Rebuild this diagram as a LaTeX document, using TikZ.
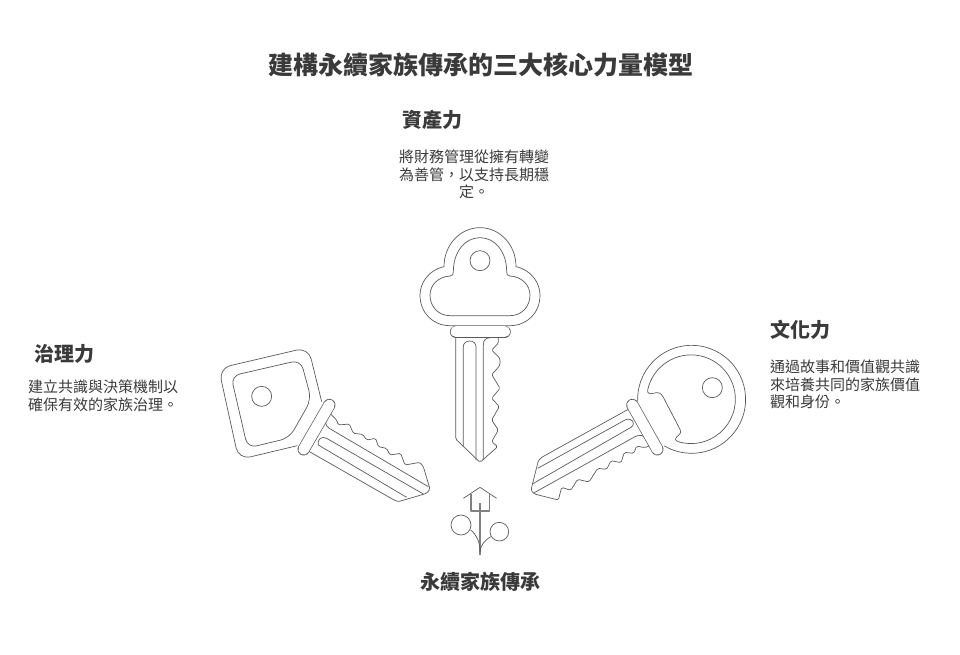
\documentclass[tikz,border=0pt]{standalone}
\usepackage{fontspec}
\setmainfont{Noto Sans CJK TC}
\usetikzlibrary{positioning}
\definecolor{ink}{HTML}{3A3A3A}
\definecolor{keygray}{HTML}{5A5A5A}
\definecolor{stemgray}{HTML}{808080}

\begin{document}
\begin{tikzpicture}[x=1pt,y=-1pt,
  keyline/.style={draw=keygray,line width=0.7pt,line join=round},
  collar/.style={keyline,double=white,double distance=10.8pt,line cap=round},
  head/.style={text=ink,inner sep=0pt,font=\fontsize{20}{24}\selectfont\bfseries},
  body/.style={text=ink,inner sep=0pt,font=\fontsize{15}{17.6}\selectfont}]
\useasboundingbox (0,0) rectangle (960,654);

\node[text=ink,inner sep=0pt,font=\fontsize{25}{30}\selectfont\bfseries] (title) at (480.5,65) {建構永續家族傳承的三大核心力量模型};

\node[head] (asset) at (432,120) {資產力};
\node[body,align=center] (assettext) at (474,174.5) {將財務管理從擁有轉變\\為善管，以支持長期穩\\定。};
\node[head] (govern) at (64,354) {治理力};
\node[body,align=left] (governtext) at (103,395.5) {建立共識與決策機制以\\確保有效的家族治理。};
\node[head] (culture) at (800,330) {文化力};
\node[body,align=left] (culturetext) at (845,384.5) {通過故事和價值觀共識\\來培養共同的家族價值\\觀和身份。};
\node[head] (legacy) at (480,582) {永續家族傳承};

% middle key
\begin{scope}[shift={(400,215)},scale=1/3]
\draw[keyline] (132,155) .. controls (132,90) and (180,38) .. (240,38) .. controls (300,38) and (348,90) .. (348,155)
  .. controls (395,165) and (420,205) .. (420,240) .. controls (420,295) and (380,332) .. (330,332) -- (150,332)
  .. controls (100,332) and (60,295) .. (60,240) .. controls (60,205) and (85,165) .. (132,155) -- cycle;
\draw[keyline] (160,170) .. controls (160,110) and (195,68) .. (240,68) .. controls (285,68) and (320,110) .. (320,170)
  .. controls (320,178) and (322,182) .. (330,183) .. controls (365,185) and (390,210) .. (390,240)
  .. controls (390,275) and (365,302) .. (330,302) -- (150,302) .. controls (115,302) and (90,275) .. (90,240)
  .. controls (90,210) and (115,185) .. (150,183) .. controls (158,182) and (160,178) .. (160,170) -- cycle;
\draw[keyline] (240,137) circle (30);
\draw[keyline,rounded corners=1.5pt] (167,360) -- (167,672) -- (240,742) -- (293,695) -- (275,680) -- (295,645) -- (275,615)
  -- (298,575) -- (275,550) -- (300,520) -- (275,478) -- (288,465) -- (300,450) -- (300,430) -- (275,405) -- (295,385) -- (295,360);
\draw[keyline] (190,695) -- (190,395) .. controls (190,385) and (198,378) .. (209,378)
  .. controls (220,378) and (228,385) .. (228,395) -- (228,735);
\draw[keyline] (250,735) -- (250,390) .. controls (250,375) and (258,368) .. (272,368);
\draw[collar] (168,350) -- (314,350);
\end{scope}

% left key
\begin{scope}[shift={(210,340)},scale=1/3]
\draw[keyline,rounded corners=12pt] (335,185) -- (295,22) -- (26,85) -- (86,359) -- (262,317);
\draw[keyline,rounded corners=9pt] (272,60) -- (304,178) -- (238,294) -- (113,324) -- (63,108) -- cycle;
\draw[keyline] (155,169) circle (30);
\draw[keyline,rounded corners=1.5pt] (362,222) -- (380,240) -- (385,255) -- (418,252) -- (430,280) -- (458,283) -- (470,300)
  -- (497,295) -- (505,320) -- (530,325) -- (540,345) -- (572,340) -- (585,375) -- (630,367) -- (640,380) -- (660,447)
  -- (650,460) -- (565,485) -- (552,480) -- (295,333);
\draw[keyline] (348,235) .. controls (345,250) and (348,258) .. (358,265) -- (655,440);
\draw[keyline] (640,462) -- (350,295) .. controls (335,286) and (320,300) .. (325,315) -- (590,472);
\draw[collar] (358,195) -- (281,328);
\end{scope}

% right key
\begin{scope}[shift={(525,340)},scale=1/3]
\draw[keyline] (338,185) arc (177.5:480.3:162);
\draw[keyline] (368,150) arc (192:465:133) .. controls (450,302) and (448,298) .. (456,290) .. controls (465,282) and (470,278) .. (465,268)
  -- (415,172) .. controls (408,158) and (398,155) .. (385,160) .. controls (375,163) and (365,160) .. (368,150);
\draw[keyline] (562,143) circle (30);
\draw[keyline,rounded corners=1.5pt] (315,205) -- (50,352) -- (40,362) -- (18,450) -- (28,462) -- (100,480) -- (110,442) -- (137,451)
  -- (158,418) -- (192,426) -- (218,385) -- (245,388) -- (258,362) -- (288,368) -- (298,337) -- (326,340) -- (335,318) -- (358,323) -- (378,316);
\draw[keyline] (365,300) .. controls (355,285) and (345,282) .. (330,290) -- (28,458);
\draw[keyline] (38,385) -- (300,240) .. controls (320,230) and (335,250) .. (318,262) -- (22,432);
\draw[collar] (322,195) -- (397,328);
\end{scope}

% small sprout
\begin{scope}[shift={(440,480)},scale=1/3]
\draw[keyline] (70,55) -- (120,22) -- (170,55);
\draw[keyline,draw=stemgray,line width=1.2pt] (93,42) -- (93,93) -- (148,93) -- (148,42);
\draw[keyline,draw=stemgray,line width=1.4pt] (120,70) -- (120,225);
\draw[keyline] (63,135) circle (30);
\draw[keyline] (178,155) circle (28);
\draw[keyline] (92,150) .. controls (110,165) and (120,185) .. (120,215);
\draw[keyline] (152,170) .. controls (135,180) and (122,195) .. (120,215);
\end{scope}
\end{tikzpicture}
\end{document}
